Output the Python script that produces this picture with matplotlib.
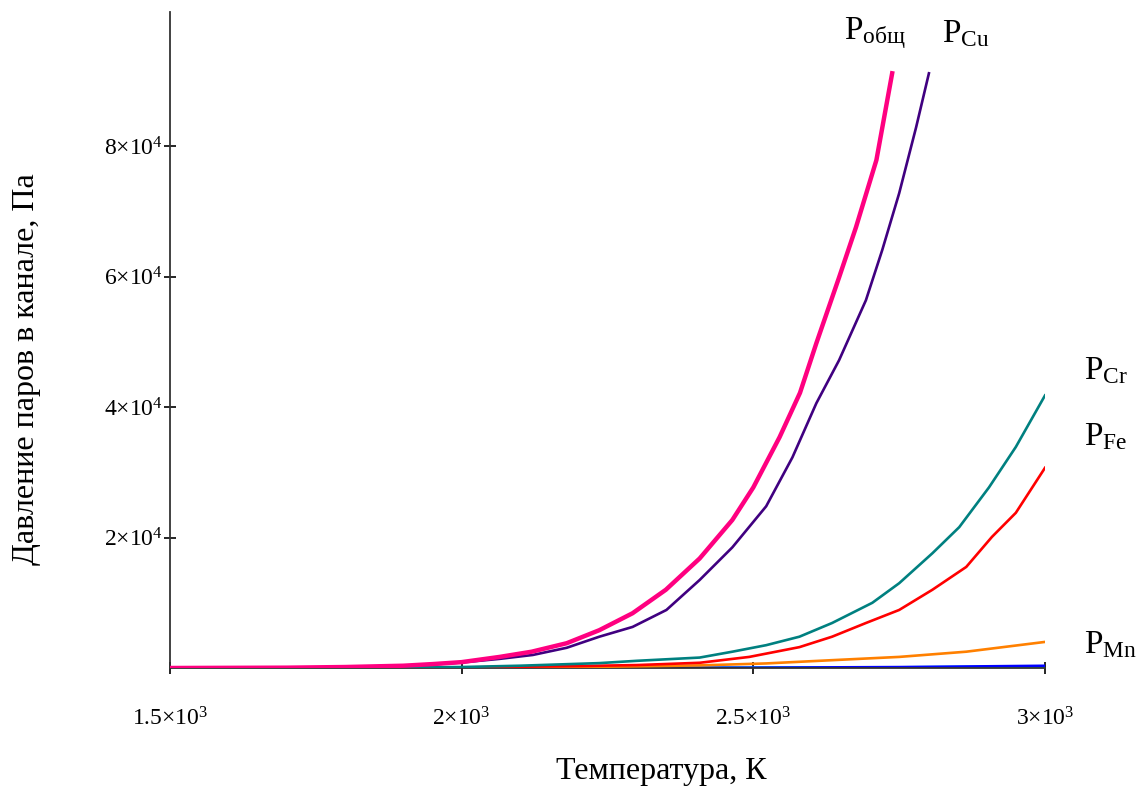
import matplotlib
matplotlib.use("Agg")
import matplotlib.pyplot as plt
from matplotlib.ticker import FixedLocator

plt.rcParams['font.family'] = ['Liberation Serif', 'DejaVu Serif']
plt.rcParams['mathtext.fontset'] = 'custom'
plt.rcParams['mathtext.rm'] = 'Liberation Serif'
plt.rcParams['mathtext.it'] = 'Liberation Serif:italic'
plt.rcParams['mathtext.bf'] = 'Liberation Serif:bold'

# ---- data ----
T_total = [1500, 1700, 1800, 1900, 1950, 2000, 2065, 2120, 2180, 2236, 2293, 2350, 2408,
           2464, 2500, 2545, 2580, 2608, 2647, 2676, 2711, 2738]
P_total = [0, 50, 150, 350, 600, 900, 1700, 2500, 3800, 5800, 8400, 12000, 16800,
           22700, 27700, 35400, 42200, 49800, 59900, 67600, 77900, 91200]

T_cu = [1500, 1700, 1800, 1900, 1950, 2000, 2065, 2122, 2180, 2236, 2293, 2351, 2408,
        2464, 2522, 2567, 2608, 2647, 2693, 2721, 2750, 2779, 2801]
P_cu = [0, 40, 130, 320, 550, 850, 1400, 2000, 3100, 4800, 6300, 8900, 13500,
        18500, 24800, 32300, 40600, 47200, 56400, 64100, 72800, 82900, 91200]

T_cr = [1500, 1800, 1900, 2000, 2100, 2236, 2300, 2408, 2464, 2522, 2579, 2635, 2704,
        2750, 2807, 2853, 2904, 2950, 3000]
P_cr = [0, 30, 80, 150, 350, 750, 1100, 1600, 2500, 3500, 4800, 6900, 10000,
        13000, 17600, 21600, 27700, 33900, 41800]

T_fe = [1500, 1900, 2000, 2200, 2300, 2408, 2493, 2579, 2635, 2693, 2750, 2807, 2865,
        2909, 2950, 3000]
P_fe = [0, 30, 80, 300, 450, 800, 1700, 3200, 4800, 6900, 8900, 12000, 15500,
        20100, 23800, 30700]

T_mn = [1500, 2000, 2200, 2300, 2408, 2522, 2635, 2750, 2865, 3000]
P_mn = [0, 40, 150, 250, 400, 700, 1200, 1700, 2500, 4000]

T_small = [1500, 2250, 2500, 2750, 3000]
P_blue = [0, 20, 60, 150, 350]
P_cyan = [0, 15, 40, 110, 250]
P_green = [0, 5, 15, 40, 100]

x_ticks = [1500, 2000, 2500, 3000]
x_tick_labels = [r'$1.5{\times}10^{3}$', r'$2{\times}10^{3}$', r'$2.5{\times}10^{3}$', r'$3{\times}10^{3}$']
y_ticks = [20000, 40000, 60000, 80000]
y_tick_labels = [r'$2{\times}10^{4}$', r'$4{\times}10^{4}$', r'$6{\times}10^{4}$', r'$8{\times}10^{4}$']

curve_labels = [r'$\mathrm{P}_{\mathrm{общ}}$', r'$\mathrm{P}_{\mathrm{Cu}}$', r'$\mathrm{P}_{\mathrm{Cr}}$',
                r'$\mathrm{P}_{\mathrm{Fe}}$', r'$\mathrm{P}_{\mathrm{Mn}}$']
label_T = [2656, 2824, 3067, 3067, 3067]
label_P = [97300, 97300, 45600, 35500, 3600]

# ---- figure ----
fig = plt.figure(figsize=(11.37, 7.89), dpi=100)
ax = fig.add_axes([170/1137, 1 - 668/789, 875/1137, 656/789])
ax.set_xlim(1500, 3000)
ax.set_ylim(0, 100600)

ax.plot(T_small, P_green, color='#00FF00', lw=1.8, zorder=2)
ax.plot(T_small, P_cyan, color='#00FFFF', lw=1.8, zorder=2)
ax.plot(T_small, P_blue, color='#0000FF', lw=1.8, zorder=2)
ax.plot(T_mn, P_mn, color='#FF8000', lw=1.9, zorder=3)
ax.plot(T_fe, P_fe, color='#FF0000', lw=1.9, zorder=3)
ax.plot(T_cr, P_cr, color='#008080', lw=1.9, zorder=3)
ax.plot(T_cu, P_cu, color='#400080', lw=1.9, zorder=4)
ax.plot(T_total, P_total, color='#FF0080', lw=3.2, zorder=5)

for s in ['top', 'right']:
    ax.spines[s].set_visible(False)
for s in ['left', 'bottom']:
    ax.spines[s].set_color('#333333')
    ax.spines[s].set_linewidth(1.3)

ax.xaxis.set_major_locator(FixedLocator(x_ticks))
ax.set_xticklabels(x_tick_labels)
ax.yaxis.set_major_locator(FixedLocator(y_ticks))
ax.set_yticklabels(y_tick_labels)
ax.tick_params(axis='both', direction='inout', length=8, width=1.2, colors='black', labelsize=17)
ax.tick_params(axis='x', pad=24)
ax.tick_params(axis='y', pad=1)

ax.text((661 - 170) / 875, -(772 - 668) / 656, 'Температура, К', transform=ax.transAxes,
        ha='center', va='center', fontsize=23)
ax.text((27 - 170) / 875, (668 - 369) / 656, 'Давление паров в канале, Па', transform=ax.transAxes,
        ha='center', va='center', rotation=90, fontsize=23)

for lab, tx, ty in zip(curve_labels, label_T, label_P):
    ax.text(tx, ty, lab, ha='left', va='center', fontsize=24, clip_on=False)

fig.savefig('out.png', dpi=100)
